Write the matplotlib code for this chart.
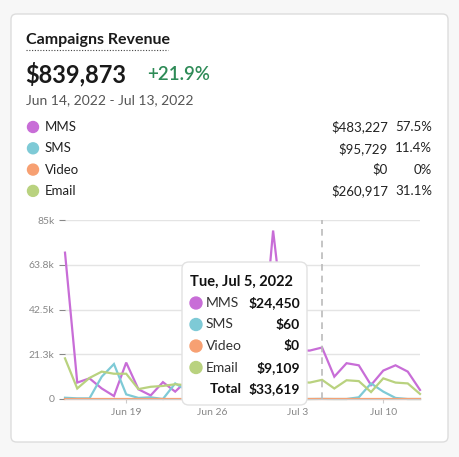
import matplotlib
matplotlib.use("Agg")
import matplotlib.pyplot as plt
from matplotlib.patches import FancyBboxPatch
import numpy as np
import datetime as dt

dates = [dt.date(2022, 6, 14) + dt.timedelta(days=i) for i in range(30)]
mms = [69.5, 7.8, 9.8, 5, 1.4, 17.3, 4.6, 1.7, 8, 3.5, 9, 10, 12, 8, 11, 12, 15, 80, 30, 23, 23, 24.45, 10.6, 17, 16, 6.6, 13.5, 16, 13, 4.3]
sms = [0.6, 0.3, 0.3, 10.6, 16.6, 2.2, 0.5, 0.8, 0, 7.4, 4, 3, 5, 8, 10, 6, 4, 2, 2, 0, 0, 0.06, 0, 0, 0.8, 7.4, 3.5, 0.5, 0, 0]
video = [0] * 30
email = [19.3, 5, 10, 13, 12, 12, 4.7, 5.8, 6.2, 7, 6.5, 10, 11, 9, 10, 11, 10, 10, 10, 8, 7.8, 9.1, 5, 8.9, 8.5, 3.3, 9.8, 7.8, 7.4, 2.4]
series_names = ["MMS", "SMS", "Video", "Email"]
colors = ["#c86dd7", "#7ecad6", "#f7a072", "#b9d27f"]
totals = ["$483,227", "$95,729", "$0", "$260,917"]
pcts = ["57.5%", "11.4%", "0%", "31.1%"]
yticks = [0, 21.3, 42.5, 63.8, 85]
ytick_labels = ["0", "21.3k", "42.5k", "63.8k", "85k"]
xtick_idx = [5, 12, 19, 26]
xtick_labels = ["Jun 19", "Jun 26", "Jul 3", "Jul 10"]
tip_values = ["$24,450", "$60", "$0", "$9,109"]
tip_total = "$33,619"
hover_idx = 21

W, H = 459, 457
fig = plt.figure(figsize=(W/100, H/100), dpi=100)
plt.rcParams['font.family'] = ['Lato', 'DejaVu Sans']

def fx(x): return x / W
def fy(y): return 1 - y / H
def txt(x, y, s, **kw):
    fig.text(fx(x), fy(y), s, va='center', **kw)

card = FancyBboxPatch((fx(11), fy(442)), fx(437), (442-14)/H, boxstyle="round,pad=0,rounding_size=0.012",
                      transform=fig.transFigure, fc='white', ec='#dddddd', lw=1, zorder=-5)
fig.patches.append(card)

txt(26, 40, "Campaigns Revenue", fontsize=11.5, fontweight='bold', color='#1a1a1a')
fig.lines.append(plt.Line2D([fx(26), fx(168)], [fy(50), fy(50)], transform=fig.transFigure, color='#444', lw=0.8, ls=(0, (1, 1.5))))
txt(25, 74, "$839,873", fontsize=17, fontweight='bold', color='#1a1a1a')
txt(147, 74, "+21.9%", fontsize=13.5, color='#2e8b57', fontweight='semibold')
txt(26, 100, "Jun 14, 2022 - Jul 13, 2022", fontsize=10, color='#555')
for i, (n, c, t, p) in enumerate(zip(series_names, colors, totals, pcts)):
    y = 127 + i * 21.3
    fig.patches.append(plt.Circle((fx(33), fy(y)), 5.5 / W, transform=fig.transFigure, color=c))
    txt(45, y, n, fontsize=9.5, color='#222')
    txt(388, y, t, fontsize=9.5, color='#222', ha='right')
    txt(432, y, p, fontsize=9.5, color='#222', ha='right')

ax = fig.add_axes([fx(65), fy(399), 355/W, 179/H])
ax.set_zorder(1)
ax.patch.set_alpha(0)
x = np.arange(30)
for vals, c in zip([mms, sms, video, email], colors):
    ax.plot(x, vals, color=c, lw=1.6, solid_joinstyle='miter', clip_on=False)
ax.set_xlim(0, 29)
ax.set_ylim(0, 85)
ax.set_yticks(yticks)
ax.set_yticklabels(ytick_labels)
ax.set_xticks(xtick_idx)
ax.set_xticklabels(xtick_labels)
ax.grid(axis='y', color='#e4e4e4', lw=1)
ax.set_axisbelow(True)
for s in ['top', 'right', 'left']:
    ax.spines[s].set_visible(False)
ax.spines['bottom'].set_color('#cccccc')
ax.tick_params(axis='y', colors='#888', labelsize=7.5, length=4, color='#888')
ax.tick_params(axis='x', colors='#888', labelsize=7.5, length=3, color='#ccc')
ax.axvline(hover_idx, color='#bbbbbb', ls=(0, (4, 3)), lw=1.2)

tip = FancyBboxPatch((fx(182), fy(405)), fx(125), (405-262)/H, boxstyle="round,pad=0,rounding_size=0.015",
                     transform=fig.transFigure, fc='white', ec='#e2e2e2', lw=1, zorder=10)
fig.patches.append(tip)
fig.text(fx(190), fy(282), "Tue, Jul 5, 2022", fontsize=10.5, fontweight='bold', va='center', color='#111', zorder=11)
for i, (n, c, v) in enumerate(zip(series_names, colors, tip_values)):
    y = 303 + i * 21.5
    fig.patches.append(plt.Circle((fx(196), fy(y)), 6 / W, transform=fig.transFigure, color=c, zorder=11))
    fig.text(fx(206), fy(y), n, fontsize=10, va='center', color='#333', zorder=11)
    fig.text(fx(300), fy(y), v, fontsize=10, fontweight='bold', va='center', ha='right', color='#111', zorder=11)
fig.text(fx(242), fy(389), "Total", fontsize=10, fontweight='bold', va='center', ha='right', color='#111', zorder=11)
fig.text(fx(300), fy(389), tip_total, fontsize=10, fontweight='bold', va='center', ha='right', color='#111', zorder=11)

fig.savefig("out.png", dpi=100, facecolor='#f7f7f7')
